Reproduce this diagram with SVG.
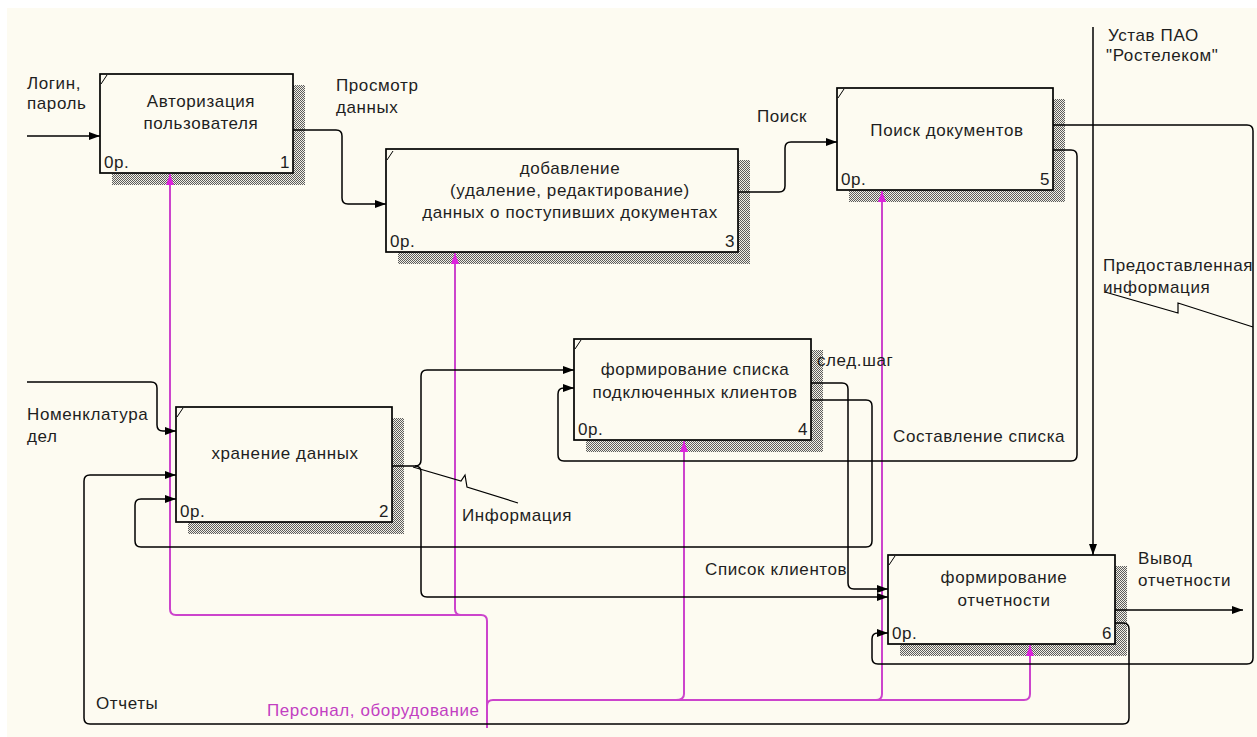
<svg xmlns="http://www.w3.org/2000/svg" width="1257" height="737" viewBox="0 0 1257 737">
  <style>
    .t { font-family: "Liberation Sans", Arial, sans-serif; font-size: 17px; letter-spacing: 0.6px; fill: #1e1e1e; }
    .c { text-anchor: middle; }
    .e { text-anchor: end; }
    .mt { fill: #c23fc2; }
    .box { fill: #fdfbf1; stroke: #000; stroke-width: 1.7; }
    .shadow { fill: url(#hatch); }
    .tick { stroke: #000; stroke-width: 1; fill: none; }
    .ln { fill: none; stroke: #000; stroke-width: 1.5; }
    .arr { marker-end: url(#ah); }
    .mg { fill: none; stroke: #cc44cc; stroke-width: 2; }
    .marr { marker-end: url(#mah); }
    .sq { fill: none; stroke: #000; stroke-width: 1.2; }
  </style>
  <defs>
    <pattern id="hatch" width="2" height="2" patternUnits="userSpaceOnUse">
      <rect width="2" height="2" fill="#f2f0e6"/>
      <rect x="0" y="0" width="1" height="1" fill="#5c5c5c"/>
      <rect x="1" y="1" width="1" height="1" fill="#5c5c5c"/>
    </pattern>
    <marker id="ah" markerUnits="userSpaceOnUse" markerWidth="12" markerHeight="10" refX="11" refY="5" orient="auto">
      <path d="M0,1 L11,5 L0,9 z" fill="#000"/>
    </marker>
    <marker id="mah" markerUnits="userSpaceOnUse" markerWidth="12" markerHeight="10" refX="11" refY="5" orient="auto">
      <path d="M0,1 L11,5 L0,9 z" fill="#dd22dd"/>
    </marker>
  </defs>

  <!-- canvas -->
  <rect width="1257" height="737" fill="#ffffff"/>
  <rect x="7" y="8" width="1250" height="729" fill="#fdfbf1"/>

  <!-- activity boxes -->
  <g id="node-1">
    <path class="shadow" d="M293,85 H305 V185 H112 V173 H293 Z"/>
    <rect class="box" x="100" y="74" width="193" height="99"/>
    <line class="tick" x1="101" y1="84" x2="107" y2="75"/>
    <text class="t c" x="201" y="107">Авторизация</text>
    <text class="t c" x="201" y="129">пользователя</text>
    <text class="t" x="104" y="168">0р.</text>
    <text class="t e" x="290" y="168">1</text>
  </g>

  <g id="node-3">
    <path class="shadow" d="M738,160 H750 V264 H398 V252 H738 Z"/>
    <rect class="box" x="386" y="149" width="352" height="103"/>
    <line class="tick" x1="387" y1="160" x2="393" y2="151"/>
    <text class="t c" x="570" y="174">добавление</text>
    <text class="t c" x="570" y="196">(удаление, редактирование)</text>
    <text class="t c" x="570" y="218">данных о поступивших документах</text>
    <text class="t" x="390" y="247">0р.</text>
    <text class="t e" x="735" y="247">3</text>
  </g>

  <g id="node-5">
    <path class="shadow" d="M1053,99 H1065 V202 H849 V190 H1053 Z"/>
    <rect class="box" x="837" y="88" width="216" height="102"/>
    <line class="tick" x1="838" y1="98" x2="844" y2="89"/>
    <text class="t c" x="947" y="136">Поиск документов</text>
    <text class="t" x="841" y="185">0р.</text>
    <text class="t e" x="1050" y="185">5</text>
  </g>

  <g id="node-4">
    <path class="shadow" d="M811,350 H823 V452 H586 V440 H811 Z"/>
    <rect class="box" x="574" y="339" width="237" height="101"/>
    <line class="tick" x1="575" y1="349" x2="581" y2="340"/>
    <text class="t c" x="695" y="375">формирование списка</text>
    <text class="t c" x="695" y="398">подключенных клиентов</text>
    <text class="t" x="578" y="435">0р.</text>
    <text class="t e" x="808" y="435">4</text>
  </g>

  <g id="node-2">
    <path class="shadow" d="M392,418 H404 V534 H188 V522 H392 Z"/>
    <rect class="box" x="176" y="407" width="216" height="115"/>
    <line class="tick" x1="177" y1="417" x2="183" y2="408"/>
    <text class="t c" x="285" y="459">хранение данных</text>
    <text class="t" x="180" y="517">0р.</text>
    <text class="t e" x="389" y="517">2</text>
  </g>

  <g id="node-6">
    <path class="shadow" d="M1115,566 H1127 V656 H900 V644 H1115 Z"/>
    <rect class="box" x="888" y="555" width="227" height="89"/>
    <line class="tick" x1="889" y1="565" x2="895" y2="556"/>
    <text class="t c" x="1004" y="583">формирование</text>
    <text class="t c" x="1004" y="606">отчетности</text>
    <text class="t" x="892" y="639">0р.</text>
    <text class="t e" x="1112" y="639">6</text>
  </g>

  <!-- arrows between activities -->
  <g id="connectors">
    <!-- mechanism tunnel -->
    <path class="mg marr" d="M487,728 V621 Q487,615 481,615 H176 Q170,615 170,609 V174"/>
    <path class="mg marr" d="M470,615 H461 Q455,615 455,609 V253"/>
    <path class="mg marr" d="M487,712 V706 Q487,700 493,700 H1024 Q1030,700 1030,694 V645"/>
    <path class="mg marr" d="M676,700 Q684,700 684,694 V441"/>
    <path class="mg marr" d="M876,700 Q882,700 882,694 V191"/>

    <!-- inputs, outputs, controls -->
    <path class="ln arr" d="M27,136 H100"/>
    <path class="ln arr" d="M293,130 H336 Q342,130 342,136 V198 Q342,204 348,204 H386"/>
    <path class="ln arr" d="M738,192 H779 Q785,192 785,186 V148 Q785,142 791,142 H837"/>
    <path class="ln arr" d="M1093,27 V555"/>
    <path class="ln arr" d="M1053,125 H1247 Q1253,125 1253,131 V658 Q1253,664 1247,664 H878 Q872,664 872,658 V639 Q872,633 878,633 H888"/>
    <path class="ln arr" d="M1053,150 H1071 Q1077,150 1077,156 V455 Q1077,461 1071,461 H564 Q558,461 558,455 V394 Q558,388 564,388 H574"/>
    <path class="ln arr" d="M392,466 H415 Q421,466 421,460 V376 Q421,370 427,370 H574"/>
    <path class="ln arr" d="M415,466 Q421,466 421,472 V591 Q421,597 427,597 H888"/>
    <path class="ln arr" d="M27,382 H151 Q157,382 157,388 V425 Q157,431 163,431 H176"/>
    <path class="ln arr" d="M1115,623 H1123 Q1129,623 1129,629 V718 Q1129,724 1123,724 H90 Q84,724 84,718 V481 Q84,475 90,475 H176"/>
    <path class="ln arr" d="M811,383 H842 Q848,383 848,389 V583 Q848,589 854,589 H888"/>
    <path class="ln arr" d="M811,400 H866 Q872,400 872,406 V541 Q872,547 866,547 H141 Q135,547 135,541 V505 Q135,499 141,499 H176"/>
    <path class="ln arr" d="M1115,610 H1243"/>

    <!-- squiggles tying labels to arrows -->
    <path class="sq" d="M413,467 L461,481 L465,475 L467,487 L518,503"/>
    <path class="sq" d="M1105,292 L1178,313 L1178,303 L1253,327"/>

    <!-- arrow labels -->
    <text class="t" x="27" y="89">Логин,</text>
    <text class="t" x="27" y="109">пароль</text>
    <text class="t" x="336" y="91">Просмотр</text>
    <text class="t" x="336" y="113">данных</text>
    <text class="t" x="757" y="122">Поиск</text>
    <text class="t" x="1108" y="41">Устав ПАО</text>
    <text class="t" x="1106" y="61">"Ростелеком"</text>
    <text class="t" x="1103" y="271">Предоставленная</text>
    <text class="t" x="1103" y="293">информация</text>
    <text class="t" x="27" y="420">Номенклатура</text>
    <text class="t" x="27" y="442">дел</text>
    <text class="t" x="462" y="521">Информация</text>
    <text class="t" x="817" y="366">след.шаг</text>
    <text class="t" x="893" y="442">Составление списка</text>
    <text class="t" x="705" y="575">Список клиентов</text>
    <text class="t" x="1138" y="564">Вывод</text>
    <text class="t" x="1138" y="586">отчетности</text>
    <text class="t" x="96" y="709">Отчеты</text>
    <text class="t mt" x="267" y="716">Персонал, оборудование</text>
  </g>
</svg>
